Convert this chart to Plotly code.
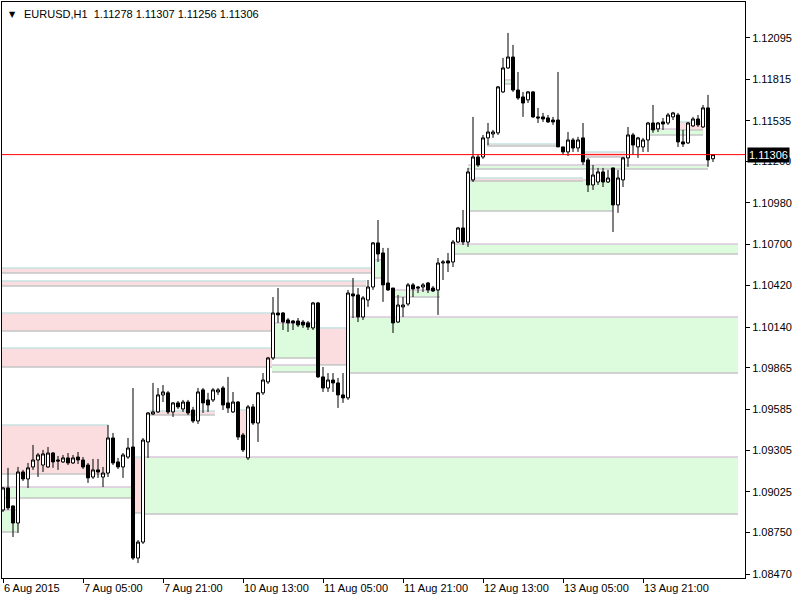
import plotly.graph_objects as go

# ---------------- data ----------------
bar_index = list(range(143))

opens = [
1.08903, 1.09052, 1.08930, 1.08815, 1.09160, 1.09113, 1.09194, 1.09241, 1.09207, 1.09194,
1.09288, 1.09241, 1.09228, 1.09255, 1.09221, 1.09261, 1.09241, 1.09207, 1.09126, 1.09174,
1.09126, 1.09153, 1.09390, 1.09228, 1.09194, 1.09261, 1.09329, 1.08578, 1.08686, 1.09363,
1.09552, 1.09566, 1.09681, 1.09695, 1.09566, 1.09627, 1.09586, 1.09633, 1.09579, 1.09505,
1.09715, 1.09647, 1.09647, 1.09701, 1.09728, 1.09627, 1.09566, 1.09633, 1.09410, 1.09255,
1.09600, 1.09491, 1.09695, 1.09769, 1.09931, 1.10235, 1.10235, 1.10188, 1.10181, 1.10181,
1.10174, 1.10168, 1.10134, 1.10303, 1.09803, 1.09728, 1.09782, 1.09762, 1.09681, 1.09661,
1.10364, 1.10357, 1.10208, 1.10323, 1.10411, 1.10709, 1.10641, 1.10438, 1.10404, 1.10174,
1.10276, 1.10296, 1.10425, 1.10411, 1.10411, 1.10438, 1.10404, 1.10391, 1.10573, 1.10587,
1.10580, 1.10715, 1.10810, 1.10715, 1.11135, 1.11290, 1.11290, 1.11419, 1.11446, 1.11453,
1.11730, 1.11892, 1.11966, 1.11743, 1.11696, 1.11676, 1.11730, 1.11561, 1.11561, 1.11554,
1.11540, 1.11540, 1.11358, 1.11324, 1.11405, 1.11351, 1.11419, 1.11270, 1.11101, 1.11121,
1.11189, 1.11121, 1.11216, 1.10966, 1.11135, 1.11284, 1.11439, 1.11358, 1.11358, 1.11405,
1.11520, 1.11480, 1.11527, 1.11520, 1.11561, 1.11574, 1.11392, 1.11385, 1.11500, 1.11547,
1.11493, 1.11622, 1.11278]

highs = [
1.09058, 1.09188, 1.08935, 1.09194, 1.09174, 1.09221, 1.09343, 1.09288, 1.09309, 1.09329,
1.09295, 1.09268, 1.09275, 1.09288, 1.09275, 1.09295, 1.09261, 1.09221, 1.09248, 1.09248,
1.09194, 1.09478, 1.09424, 1.09255, 1.09288, 1.09390, 1.09728, 1.08700, 1.09390, 1.09566,
1.09762, 1.09728, 1.09748, 1.09708, 1.09633, 1.09640, 1.09647, 1.09647, 1.09600, 1.09728,
1.09728, 1.09695, 1.09728, 1.09728, 1.09742, 1.09803, 1.09701, 1.09640, 1.09424, 1.09613,
1.09620, 1.09701, 1.09829, 1.09938, 1.10343, 1.10404, 1.10242, 1.10201, 1.10188, 1.10201,
1.10188, 1.10181, 1.10310, 1.10310, 1.09870, 1.09829, 1.09829, 1.09796, 1.09829, 1.10391,
1.10472, 1.10404, 1.10350, 1.10458, 1.10715, 1.10864, 1.10675, 1.10675, 1.10404, 1.10357,
1.10343, 1.10438, 1.10438, 1.10418, 1.10438, 1.10445, 1.10418, 1.10607, 1.10594, 1.10641,
1.10729, 1.10817, 1.10932, 1.11216, 1.11561, 1.11304, 1.11439, 1.11520, 1.11473, 1.11770,
1.11960, 1.12129, 1.12048, 1.11865, 1.11730, 1.11736, 1.11736, 1.11622, 1.11588, 1.11574,
1.11561, 1.11865, 1.11358, 1.11459, 1.11419, 1.11426, 1.11520, 1.11284, 1.11236, 1.11216,
1.11216, 1.11202, 1.11216, 1.11202, 1.11290, 1.11493, 1.11453, 1.11426, 1.11419, 1.11527,
1.11642, 1.11527, 1.11554, 1.11588, 1.11595, 1.11588, 1.11473, 1.11527, 1.11561, 1.11574,
1.11642, 1.11710, 1.11307]

lows = [
1.08889, 1.08903, 1.08720, 1.08748, 1.09099, 1.09052, 1.09174, 1.09126, 1.09160, 1.09188,
1.09188, 1.09174, 1.09221, 1.09207, 1.09214, 1.09214, 1.09180, 1.09086, 1.09113, 1.09120,
1.09058, 1.09126, 1.09207, 1.09180, 1.09120, 1.09248, 1.08565, 1.08544, 1.08673, 1.09255,
1.09545, 1.09559, 1.09633, 1.09552, 1.09532, 1.09586, 1.09566, 1.09545, 1.09491, 1.09485,
1.09559, 1.09566, 1.09633, 1.09681, 1.09579, 1.09559, 1.09559, 1.09376, 1.09295, 1.09241,
1.09478, 1.09363, 1.09681, 1.09755, 1.09917, 1.10168, 1.10120, 1.10107, 1.10120, 1.10140,
1.10134, 1.10120, 1.10120, 1.09796, 1.09701, 1.09701, 1.09701, 1.09593, 1.09627, 1.09647,
1.10201, 1.10174, 1.10188, 1.10276, 1.10391, 1.10580, 1.10310, 1.10384, 1.10100, 1.10168,
1.10208, 1.10283, 1.10343, 1.10370, 1.10377, 1.10370, 1.10377, 1.10222, 1.10458, 1.10512,
1.10546, 1.10709, 1.10695, 1.10682, 1.11121, 1.11223, 1.11277, 1.11371, 1.11419, 1.11439,
1.11723, 1.11885, 1.11730, 1.11676, 1.11561, 1.11655, 1.11554, 1.11520, 1.11527, 1.11520,
1.11507, 1.11358, 1.11304, 1.11297, 1.11324, 1.11324, 1.11236, 1.11053, 1.11067, 1.11101,
1.11087, 1.11114, 1.10783, 1.10912, 1.11087, 1.11223, 1.11304, 1.11284, 1.11324, 1.11324,
1.11453, 1.11459, 1.11473, 1.11507, 1.11540, 1.11358, 1.11358, 1.11378, 1.11493, 1.11493,
1.11486, 1.11223, 1.11256]

closes = [
1.09052, 1.08917, 1.08815, 1.09160, 1.09113, 1.09188, 1.09241, 1.09275, 1.09282, 1.09288,
1.09228, 1.09234, 1.09255, 1.09221, 1.09255, 1.09241, 1.09194, 1.09120, 1.09174, 1.09160,
1.09153, 1.09390, 1.09221, 1.09194, 1.09275, 1.09322, 1.08578, 1.08686, 1.09376, 1.09559,
1.09566, 1.09681, 1.09701, 1.09566, 1.09627, 1.09600, 1.09633, 1.09559, 1.09505, 1.09701,
1.09627, 1.09613, 1.09715, 1.09715, 1.09613, 1.09593, 1.09633, 1.09397, 1.09309, 1.09600,
1.09491, 1.09695, 1.09782, 1.09931, 1.10235, 1.10222, 1.10174, 1.10168, 1.10168, 1.10154,
1.10154, 1.10140, 1.10303, 1.09803, 1.09728, 1.09782, 1.09762, 1.09681, 1.09661, 1.10370,
1.10350, 1.10208, 1.10337, 1.10411, 1.10709, 1.10634, 1.10425, 1.10391, 1.10168, 1.10289,
1.10289, 1.10425, 1.10398, 1.10404, 1.10425, 1.10391, 1.10384, 1.10573, 1.10580, 1.10573,
1.10715, 1.10810, 1.10715, 1.11189, 1.11290, 1.11236, 1.11419, 1.11459, 1.11459, 1.11764,
1.11892, 1.11966, 1.11743, 1.11689, 1.11655, 1.11730, 1.11561, 1.11554, 1.11547, 1.11527,
1.11527, 1.11358, 1.11324, 1.11405, 1.11351, 1.11405, 1.11257, 1.11101, 1.11168, 1.11189,
1.11121, 1.11148, 1.10966, 1.11148, 1.11284, 1.11439, 1.11371, 1.11419, 1.11405, 1.11520,
1.11473, 1.11520, 1.11513, 1.11574, 1.11588, 1.11392, 1.11378, 1.11520, 1.11547, 1.11507,
1.11622, 1.11270, 1.11306]

# x-axis labels (every 16 bars)
xtick_bars = [0, 16, 32, 48, 64, 80, 96, 112, 128]
xtick_labels = ["6 Aug 2015", "7 Aug 05:00", "7 Aug 21:00", "10 Aug 13:00", "11 Aug 05:00",
                "11 Aug 21:00", "12 Aug 13:00", "13 Aug 05:00", "13 Aug 21:00"]

# price axis labels
ytick_values = [1.12095, 1.11815, 1.11535, 1.11260, 1.10980, 1.10700, 1.10420,
                1.10140, 1.09865, 1.09585, 1.09305, 1.09025, 1.08750, 1.08470]
ytick_labels = ["%.5f" % v for v in ytick_values]

# supply / demand zones (bar start, bar end, low price, high price, kind)
zone_start = [-0.6, -0.6, -0.6, -0.6, 53.8, 53.8, 63.0, 69.4, -0.6, -0.6, -0.6, 25.8, 28.2,
              46.8, 29.4, 74.0, 78.4, 90.4, 93.0, 96.8, 116.0, 93.0, 93.0, 129.4, 134.8, 100.4]
zone_end = [73.8, 72.6, 53.8, 53.8, 62.6, 62.6, 68.8, 147.0, 21.0, 25.8, 3.0, 28.2, 147.0,
            48.8, 42.4, 76.0, 87.4, 147.0, 122.0, 110.8, 124.4, 141.0, 116.0, 140.0, 140.0, 102.0]
zone_low = [1.10506, 1.10418, 1.10113, 1.09870, 1.09931, 1.09836, 1.09884, 1.09829, 1.09146,
            1.08984, 1.08754, 1.08883, 1.08876, 1.09397, 1.09545, 1.10472, 1.10343, 1.10634,
            1.10925, 1.11365, 1.11290, 1.11209, 1.11128, 1.11439, 1.11473, 1.11784]
zone_high = [1.10540, 1.10452, 1.10235, 1.09998, 1.10168, 1.09884, 1.10134, 1.10208, 1.09478,
             1.09058, 1.08903, 1.09261, 1.09261, 1.09579, 1.09572, 1.10594, 1.10391, 1.10702,
             1.11135, 1.11378, 1.11324, 1.11236, 1.11148, 1.11480, 1.11527, 1.11811]
zone_kind = ["s", "s", "s", "s", "d", "d", "s", "d", "s", "d", "d", "s", "d",
             "s", "s", "d", "d", "d", "d", "s", "s", "d", "s", "d", "s", "d"]

bid_price = 1.11306
header = "EURUSD,H1  1.11278 1.11307 1.11256 1.11306"

# ---------------- figure ----------------
FONT = "Liberation Sans, Arial, sans-serif"
fill_col = {"d": "#ddfcdd", "s": "#fcdddf"}
top_col = {"d": "#dcc6dc", "s": "#c6e2e2"}
bot_col = "#c4c4c4"

shapes = []
for x0, x1, lo, hi, k in zip(zone_start, zone_end, zone_low, zone_high, zone_kind):
    shapes.append(dict(type="rect", xref="x", yref="y", x0=x0, x1=x1, y0=lo, y1=hi,
                       fillcolor=fill_col[k], line=dict(width=0), layer="below"))
    shapes.append(dict(type="line", xref="x", yref="y", x0=x0, x1=x1, y0=hi, y1=hi,
                       line=dict(color=top_col[k], width=1.5), layer="below"))
    shapes.append(dict(type="line", xref="x", yref="y", x0=x0, x1=x1, y0=lo, y1=lo,
                       line=dict(color=bot_col, width=1.5), layer="below"))

# bid line
shapes.append(dict(type="line", xref="paper", yref="y", x0=0, x1=1, y0=bid_price, y1=bid_price,
                   line=dict(color="#ff0000", width=1), layer="above"))

fig = go.Figure()
fig.add_trace(go.Candlestick(
    x=bar_index, open=opens, high=highs, low=lows, close=closes,
    increasing=dict(line=dict(color="black", width=1), fillcolor="white"),
    decreasing=dict(line=dict(color="black", width=1), fillcolor="black"),
    whiskerwidth=0, hoverinfo="skip", showlegend=False,
))

fig.update_layout(
    width=800, height=601,
    margin=dict(l=2, r=55, t=2, b=23),
    paper_bgcolor="white", plot_bgcolor="white",
    boxgap=0.4, boxgroupgap=0,
    font=dict(family=FONT, size=11, color="black"),
    shapes=shapes,
    showlegend=False,
    hovermode=False,
    xaxis=dict(
        range=[-0.2, 148.4], rangeslider=dict(visible=False),
        tickmode="array", tickvals=xtick_bars, ticktext=xtick_labels,
        ticks="outside", ticklen=4, tickcolor="black", tickwidth=1,
        ticklabelposition="outside right",
        showgrid=False, zeroline=False,
        showline=True, linecolor="black", linewidth=1, mirror=True,
        tickfont=dict(family=FONT, size=11, color="black"),
    ),
    yaxis=dict(
        side="right", range=[1.08443, 1.12338],
        tickmode="array", tickvals=ytick_values, ticktext=ytick_labels,
        ticks="outside", ticklen=4, tickcolor="black", tickwidth=1,
        showgrid=False, zeroline=False,
        showline=True, linecolor="black", linewidth=1, mirror=True,
        tickfont=dict(family=FONT, size=11, color="black"),
    ),
    annotations=[
        dict(xref="paper", yref="paper", x=0.007, y=0.9785, xanchor="left", yanchor="middle",
             text="▼", showarrow=False, font=dict(family="DejaVu Sans", size=8, color="black")),
        dict(xref="paper", yref="paper", x=0.027, y=0.98, xanchor="left", yanchor="middle",
             text=header, showarrow=False, font=dict(family=FONT, size=11, color="black")),
        dict(xref="paper", yref="y", x=1, y=bid_price, xanchor="left", yanchor="middle",
             xshift=2, text="1.11306", showarrow=False, bgcolor="black", borderpad=1,
             font=dict(family=FONT, size=11, color="white")),
    ],
)

fig.write_html("out.html",
               config={"displayModeBar": False},
               post_script="document.body.style.margin='0';document.body.style.padding='0';"
                           "document.body.style.overflow='hidden';")
